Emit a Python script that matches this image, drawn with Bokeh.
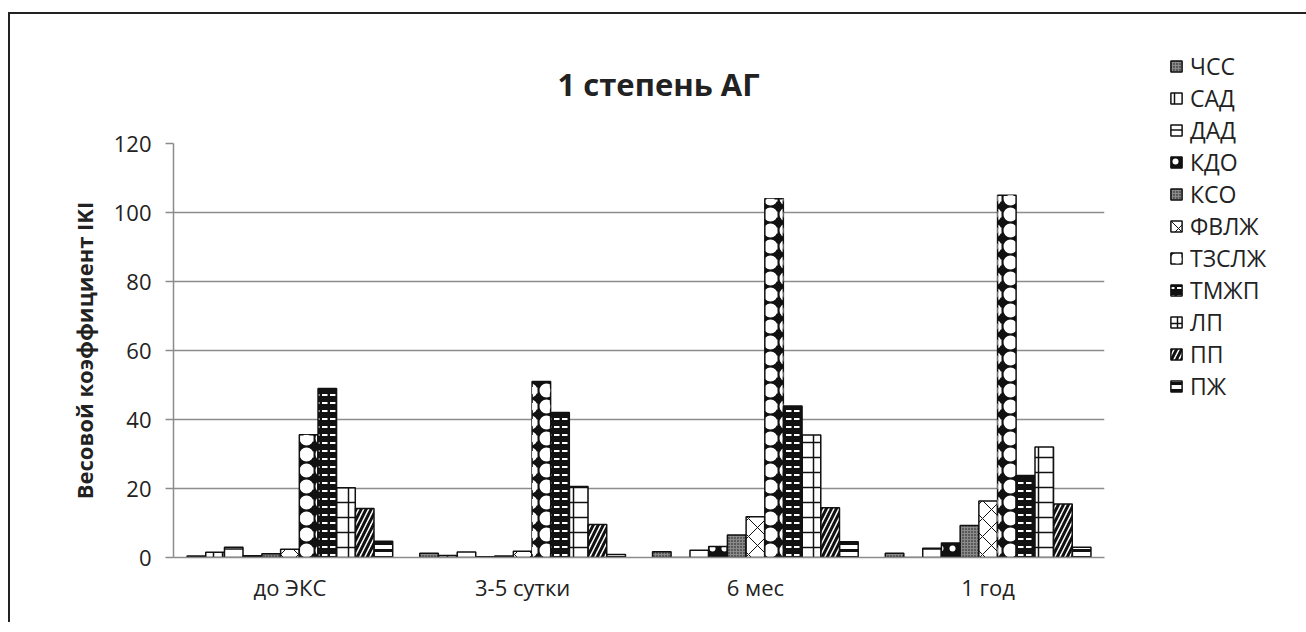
from bokeh.plotting import figure
from bokeh.models import (ColumnDataSource, FactorRange, Range1d, FixedTicker,
                          Legend, LegendItem, Title)
from bokeh.transform import dodge
from bokeh.embed import file_html
from bokeh.resources import INLINE

categories = ["до ЭКС", "3-5 сутки", "6 мес", "1 год"]
series_names = ["ЧСС", "САД", "ДАД", "КДО", "КСО", "ФВЛЖ", "ТЗСЛЖ", "ТМЖП", "ЛП", "ПП", "ПЖ"]

chss = [0.4, 1.2, 1.7, 1.2]
sad = [1.5, 0.6, 0.0, 0.0]
dad = [3.0, 1.6, 2.1, 2.7]
kdo = [0.5, 0.2, 3.2, 4.2]
kso = [1.1, 0.4, 6.5, 9.3]
fvlzh = [2.4, 1.8, 11.8, 16.4]
tzslzh = [35.6, 51.0, 104.0, 105.0]
tmzhp = [49.0, 42.0, 43.9, 23.8]
lp = [20.2, 20.6, 35.5, 32.0]
pp = [14.2, 9.6, 14.4, 15.5]
pzh = [4.7, 0.9, 4.6, 3.0]

series_values = [chss, sad, dad, kdo, kso, fvlzh, tzslzh, tmzhp, lp, pp, pzh]
y_ticks = [0, 20, 40, 60, 80, 100, 120]

# fill / hatch styles per series: list of layers (fill_color, hatch_pattern, hatch_color, hatch_scale, hatch_weight)
styles = [
    [("#8a8a8a", "dot", "#111111", 3, 1.0)],
    [("white", "vertical_line", "#111111", 9, 1.5)],
    [("white", "horizontal_line", "#111111", 12, 1.5)],
    [("#111111", "dot", "white", 12, 1.0)],
    [("#8a8a8a", "dot", "#111111", 3, 1.0)],
    [("white", "diagonal_cross", "#111111", 18, 1.0)],
    [("#111111", "ring", "white", 16, 6.0), (None, "dot", "white", 16, 1.0)],
    [("#111111", "horizontal_dash", "white", 8, 2.0)],
    [("white", "cross", "#111111", 15, 1.5)],
    [("white", "right_diagonal_line", "#111111", 10, 3.0)],
    [("white", "horizontal_line", "#111111", 7, 3.0)],
]

FONT = "Open Sans"
TXT = "#222222"
GRID = "#8c8c8c"

p = figure(x_range=FactorRange(*categories, range_padding=0),
           y_range=Range1d(0, 120),
           frame_width=931, frame_height=414,
           min_border_left=163, min_border_top=129,
           min_border_right=190, min_border_bottom=65,
           output_backend="svg", toolbar_location=None, tools="")

p.styles = {"border-left": "2px solid #222222", "border-top": "2px solid #222222",
            "margin-top": "12px", "margin-left": "8px"}

p.outline_line_color = None
p.xgrid.grid_line_color = None
p.ygrid.grid_line_color = GRID
p.ygrid.grid_line_width = 1.5
p.yaxis.ticker = FixedTicker(ticks=y_ticks)
p.yaxis.minor_tick_line_color = None
p.yaxis.major_tick_out = 8
p.yaxis.major_tick_in = 0
p.yaxis.major_tick_line_color = GRID
p.yaxis.major_tick_line_width = 1.5
p.yaxis.axis_line_color = GRID
p.yaxis.axis_line_width = 1.5
p.yaxis.major_label_standoff = 14
p.yaxis.axis_label = "Весовой коэффициент IKI"
p.yaxis.axis_label_text_font = FONT
p.yaxis.axis_label_text_font_style = "bold"
p.yaxis.axis_label_text_font_size = "22px"
p.yaxis.axis_label_text_color = TXT
p.yaxis.axis_label_standoff = 12

p.xaxis.major_tick_line_color = None
p.xaxis.minor_tick_line_color = None
p.xaxis.axis_line_color = GRID
p.xaxis.axis_line_width = 1.5
p.xaxis.major_label_standoff = 8

for ax in (p.xaxis, p.yaxis):
    ax.major_label_text_font = FONT
    ax.major_label_text_font_size = "22px"
    ax.major_label_text_color = TXT

n = len(series_names)
bar_w = 0.0804
items = []
for i, (name, vals, layers) in enumerate(zip(series_names, series_values, styles)):
    src = ColumnDataSource(data=dict(cat=categories, val=vals))
    rs = []
    for j, (fc, hp, hc, hs, hw) in enumerate(layers):
        r = p.vbar(x=dodge("cat", (i - (n - 1) / 2) * bar_w, range=p.x_range),
                   top="val", bottom=0, width=bar_w * 0.99, source=src,
                   fill_color=fc,
                   line_color="#111111" if j == 0 else None, line_width=1.5,
                   hatch_pattern=hp, hatch_color=hc, hatch_scale=hs, hatch_weight=hw)
        rs.append(r)
    items.append(LegendItem(label=name, renderers=rs))

legend = Legend(items=items, location=(65, 155), orientation="vertical",
                glyph_width=14, glyph_height=14, label_standoff=7,
                label_text_font=FONT, label_text_font_size="23px",
                label_text_color=TXT, label_height=29, spacing=0,
                padding=0, margin=0, border_line_color=None,
                background_fill_alpha=0)
p.add_layout(legend, "right")

title = Title(text="1 степень АГ", align="left", offset=384, standoff=77,
              text_font=FONT, text_font_style="bold",
              text_font_size="31px", text_color=TXT)
p.add_layout(title, "above")

open("out.html", "w").write(file_html(p, INLINE))
